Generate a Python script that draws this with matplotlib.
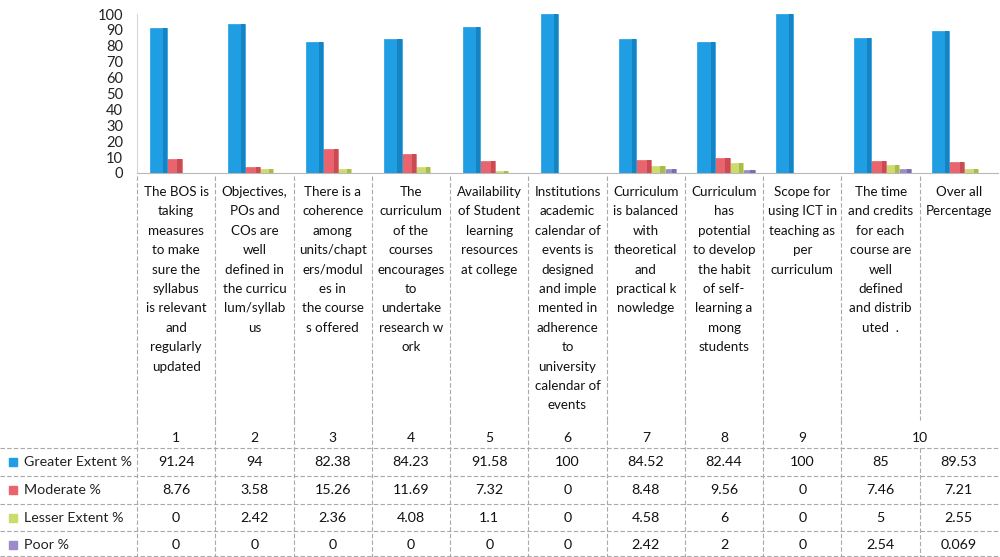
import numpy as np
import matplotlib
matplotlib.use("Agg")
import matplotlib.pyplot as plt

plt.rcParams['font.family'] = ['Lato', 'DejaVu Sans']

# data
questions = [
    "The BOS is\ntaking\nmeasures\nto make\nsure the\nsyllabus\nis relevant\nand\nregularly\nupdated",
    "Objectives,\nPOs and\nCOs are\nwell\ndefined in\nthe curricu\nlum/syllab\nus",
    "There is a\ncoherence\namong\nunits/chapt\ners/modul\nes in\nthe course\ns offered",
    "The\ncurriculum\nof the\ncourses\nencourages\nto\nundertake\nresearch w\nork",
    "Availability\nof Student\nlearning\nresources\nat college",
    "Institutions\nacademic\ncalendar of\nevents is\ndesigned\nand imple\nmented in\nadherence\nto\nuniversity\ncalendar of\nevents",
    "Curriculum\nis balanced\nwith\ntheoretical\nand\npractical k\nnowledge",
    "Curriculum\nhas\npotential\nto develop\nthe habit\nof self-\nlearning a\nmong\nstudents",
    "Scope for\nusing ICT in\nteaching as\nper\ncurriculum",
    "The time\nand credits\nfor each\ncourse are\nwell\ndefined\nand distrib\nuted  .",
    "Over all\nPercentage",
]
numbers = ["1", "2", "3", "4", "5", "6", "7", "8", "9", "10"]
series = ["Greater Extent %", "Moderate %", "Lesser Extent %", "Poor %"]
greater = [91.24, 94, 82.38, 84.23, 91.58, 100, 84.52, 82.44, 100, 85, 89.53]
moderate = [8.76, 3.58, 15.26, 11.69, 7.32, 0, 8.48, 9.56, 0, 7.46, 7.21]
lesser = [0, 2.42, 2.36, 4.08, 1.1, 0, 4.58, 6, 0, 5, 2.55]
poor = [0, 0, 0, 0, 0, 0, 2.42, 2, 0, 2.54, 0.069]
colors = ['#1f9ee3', '#e9646c', '#cbdc6c', '#9c8bcb']
sides = ['#1683c2', '#c94c55', '#a9bb4e', '#7d6db0']

W, H = 1000, 557
fig = plt.figure(figsize=(W / 100, H / 100), dpi=100)

# overlay in pixel coordinates for the table
ov = fig.add_axes([0, 0, 1, 1])
ov.set_xlim(0, W)
ov.set_ylim(H, 0)
ov.axis('off')

x0, x1 = 137, 998
n = len(questions)
cw = (x1 - x0) / n

# bar chart
ax = fig.add_axes([x0 / W, 1 - 173 / H, (x1 - x0) / W, (173 - 14) / H])
vals = [greater, moderate, lesser, poor]
offs = [0.27, 0.46, 0.63, 0.78]
idx = np.arange(n)
bw = 0.22
for k in range(4):
    ax.bar(idx + offs[k], vals[k], width=bw, color=colors[k],
           edgecolor=colors[k], lw=0.5, zorder=10 - k)
    # darker right face for a slight 3D look
    ax.bar(idx + offs[k] + bw * 0.38, vals[k], width=bw * 0.24,
           color=sides[k], lw=0, zorder=10.5 - k)
ax.set_xlim(0, n)
ax.set_ylim(0, 100)
ax.set_yticks(np.arange(0, 101, 10))
ax.set_xticks([])
ax.tick_params(axis='y', length=0, labelsize=10.5, colors='#222222', pad=10)
for s in ['top', 'right']:
    ax.spines[s].set_visible(False)
ax.spines['left'].set_color('#d8d8d8')
ax.spines['bottom'].set_color('#b8b8b8')
ax.patch.set_alpha(0)

# table grid
grid = dict(color='#a8a8a8', lw=0.8, ls=(0, (4, 2)))
for i in range(n):
    x = x0 + i * cw
    ov.plot([x, x], [176, 420], **grid)
    if i != n - 1:
        ov.plot([x, x], [420, H], **grid)
    else:
        ov.plot([x, x], [448, H], **grid)
for y in [448, 476, 504, 531, 556]:
    ov.plot([0, W], [y, y], **grid)

# question labels
for i, q in enumerate(questions):
    ov.text(x0 + (i + 0.5) * cw, 186, q, ha='center', va='top',
            fontsize=9.6, linespacing=1.74, color='#111111')

# question numbers
for i, lab in enumerate(numbers):
    if i < 9:
        xc = x0 + (i + 0.5) * cw
    else:
        xc = x0 + (i + 1) * cw
    ov.text(xc, 438, lab, ha='center', va='center', fontsize=10, color='#111111')

# rows
row_y = [462, 490, 518, 545]
for k in range(4):
    ov.add_patch(plt.Rectangle((9, row_y[k] - 4), 8, 8, color=colors[k]))
    ov.text(24, row_y[k], series[k], ha='left', va='center', fontsize=10.3,
            color='#222222')
    for i in range(n):
        ov.text(x0 + (i + 0.5) * cw, row_y[k], f"{vals[k][i]:g}",
                ha='center', va='center', fontsize=10.3, color='#111111')

fig.savefig('out.png', dpi=100)
